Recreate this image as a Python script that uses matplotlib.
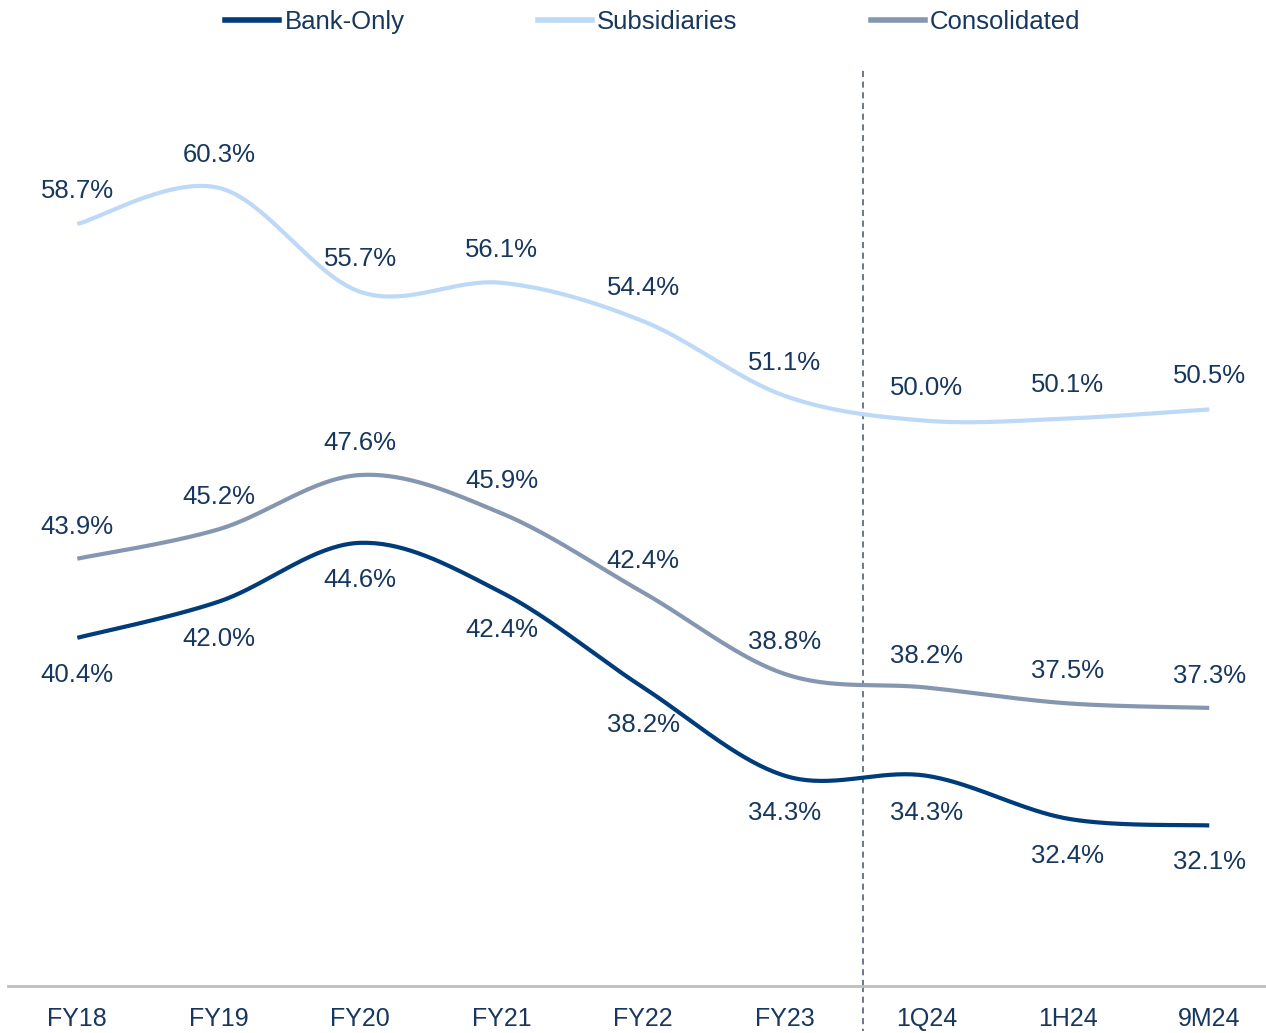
import numpy as np
import matplotlib
matplotlib.use("Agg")
import matplotlib.pyplot as plt
from matplotlib.lines import Line2D

plt.rcParams['font.family'] = ['Liberation Sans', 'DejaVu Sans']

categories = ["FY18", "FY19", "FY20", "FY21", "FY22", "FY23", "1Q24", "1H24", "9M24"]
bank_only = [40.4, 42.0, 44.6, 42.4, 38.2, 34.3, 34.3, 32.4, 32.1]
subsidiaries = [58.7, 60.3, 55.7, 56.1, 54.4, 51.1, 50.0, 50.1, 50.5]
consolidated = [43.9, 45.2, 47.6, 45.9, 42.4, 38.8, 38.2, 37.5, 37.3]

TEXT = "#17375E"
C_BANK = "#003B7A"
C_SUB = "#BDD9F7"
C_CONS = "#8597B0"


# smooth curve like Excel's "smoothed line" (Catmull-Rom)
def smooth(y, n=40):
    y = np.asarray(y, float)
    x = np.arange(len(y), dtype=float)
    P = np.column_stack([x, y])
    P = np.vstack([P[0], P, P[-1]])
    out = []
    t = np.linspace(0, 1, n)[:, None]
    for i in range(1, len(P) - 2):
        p0, p1, p2, p3 = P[i - 1], P[i], P[i + 1], P[i + 2]
        m1 = (p2 - p0) / 2
        m2 = (p3 - p1) / 2
        h00 = 2 * t**3 - 3 * t**2 + 1
        h10 = t**3 - 2 * t**2 + t
        h01 = -2 * t**3 + 3 * t**2
        h11 = t**3 - t**2
        out.append(h00 * p1 + h10 * m1 + h01 * p2 + h11 * m2)
    c = np.vstack(out)
    return c[:, 0], c[:, 1]


fig = plt.figure(figsize=(12.66, 10.33), dpi=100)
# axes: x from 8px, category spacing ~141.5px, bottom at 986px, top 68px
ax = fig.add_axes([8 / 1266, 47 / 1033, (1280 - 8) / 1266, (986 - 68) / 1033])
ax.set_xlim(-0.49, 8.5)
ax.set_ylim(25.0, 65.6)

for vals, col, off in [(subsidiaries, C_SUB, 33), (consolidated, C_CONS, 32), (bank_only, C_BANK, -37)]:
    xs, ys = smooth(vals)
    ax.plot(xs, ys, color=col, lw=3.0, solid_capstyle='butt', zorder=3)
    for i, v in enumerate(vals):
        ax.annotate(f"{v:.1f}%", (i, v), xytext=(0, off), textcoords='offset pixels',
                    ha='center', va='center', fontsize=18.5, color=TEXT)

ax.axvline(5.55, ymin=0, ymax=1, color="#44546A", lw=1.1, ls=(0, (4, 3)), clip_on=False, zorder=2)
ax.plot([5.55, 5.55], [25.0, 23.0], color="#44546A", lw=1.1, ls=(0, (4, 3)), clip_on=False)

for s in ['top', 'right', 'left']:
    ax.spines[s].set_visible(False)
ax.spines['bottom'].set_color("#BFBFBF")
ax.spines['bottom'].set_linewidth(2)
ax.set_yticks([])
ax.set_xticks(range(len(categories)))
ax.set_xticklabels(categories, fontsize=18, color=TEXT)
ax.tick_params(axis='x', length=0, pad=15)

handles = [Line2D([], [], color=C_BANK, lw=4),
           Line2D([], [], color=C_SUB, lw=4),
           Line2D([], [], color=C_CONS, lw=4)]
fig.legend(handles, ["Bank-Only", "Subsidiaries", "Consolidated"], loc='center',
           bbox_to_anchor=(653 / 1266, 1 - 22 / 1033), ncol=3, frameon=False,
           fontsize=18.5, handlelength=2.1, handletextpad=0.2, columnspacing=5.2,
           labelcolor=TEXT)

fig.savefig("out.png", dpi=100)
